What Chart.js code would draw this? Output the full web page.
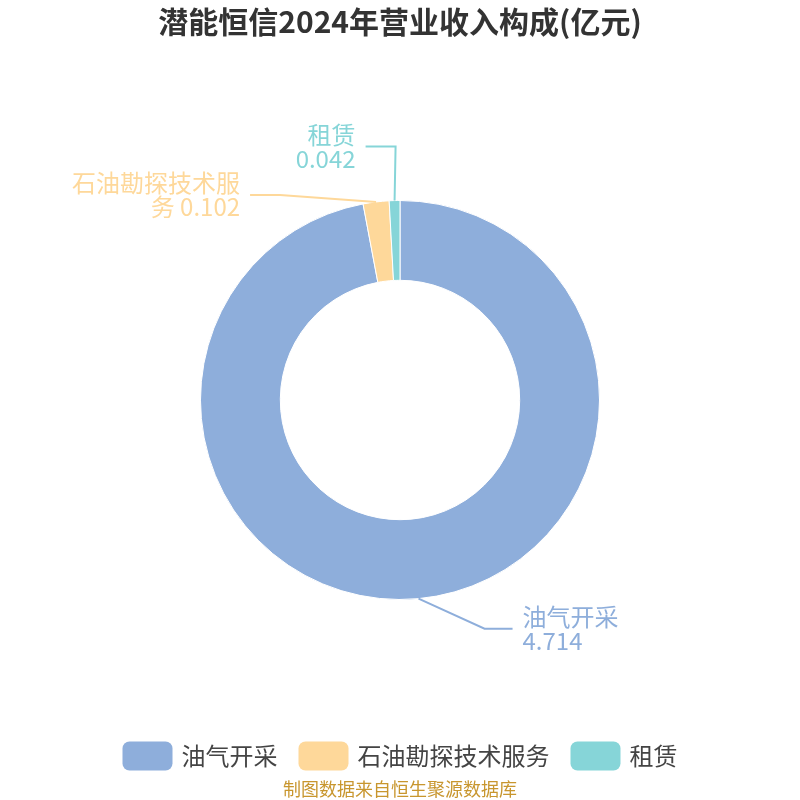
<!DOCTYPE html>
<html><head><meta charset="utf-8">
<script src="https://cdn.jsdelivr.net/npm/chart.js@4/dist/chart.umd.min.js"></script>
<style>html,body{margin:0;padding:0;background:#fff}#wrap{width:800px;height:800px}</style>
</head><body><div id="wrap"><canvas id="c" width="800" height="800"></canvas></div>
<script>
const titleText = '潜能恒信2024年营业收入构成(亿元)';
const categories = ['油气开采', '石油勘探技术服务', '租赁'];
const values = [4.714, 0.102, 0.042];
const valueLabels = ['4.714', '0.102', '0.042'];
const colors = ['#8eaedb', '#fed89a', '#86d5d8'];
const sourceText = '制图数据来自恒生聚源数据库';

const FONT = '"Noto Sans CJK SC","Noto Sans",sans-serif';
// label layout: elbow offset from arc point, horizontal run, side, text lines
const labelLayout = [
  {elbow:[66,30], run:28, side:'right', lines:[categories[0], valueLabels[0]]},
  {elbow:[-96,-7], run:-30, side:'left', lines:['石油勘探技术服', '务 ' + valueLabels[1]]},
  {elbow:[1,-54], run:-30, side:'left', lines:[categories[2], valueLabels[2]]}
];

const decor = {
  id:'decor',
  afterDraw(chart){
    const ctx = chart.ctx;
    ctx.save();
    // title
    ctx.fillStyle = '#333';
    ctx.font = 'bold 30px ' + FONT;
    ctx.textAlign = 'center'; ctx.textBaseline = 'middle';
    ctx.fillText(titleText, 400, 22);
    // labels
    const meta = chart.getDatasetMeta(0);
    meta.data.forEach((arc, i) => {
      const p = arc.getProps(['x','y','startAngle','endAngle','outerRadius'], true);
      const mid = (p.startAngle + p.endAngle) / 2;
      const sx = p.x + Math.cos(mid) * p.outerRadius;
      const sy = p.y + Math.sin(mid) * p.outerRadius;
      const L = labelLayout[i];
      const ex = sx + L.elbow[0], ey = sy + L.elbow[1];
      const hx = ex + L.run;
      ctx.strokeStyle = colors[i]; ctx.lineWidth = 2;
      ctx.beginPath(); ctx.moveTo(sx, sy); ctx.lineTo(ex, ey); ctx.lineTo(hx, ey); ctx.stroke();
      ctx.fillStyle = colors[i];
      ctx.font = '24px ' + FONT;
      ctx.textBaseline = 'middle';
      const tx = L.side === 'right' ? hx + 10 : hx - 10;
      ctx.textAlign = L.side === 'right' ? 'left' : 'right';
      ctx.fillText(L.lines[0], tx, ey - 12);
      ctx.fillText(L.lines[1], tx, ey + 12);
    });
    // legend
    ctx.font = '24px ' + FONT;
    const boxW = 50, boxH = 29, gap = 9, itemGap = 21;
    const widths = categories.map(c => boxW + gap + ctx.measureText(c).width);
    const total = widths.reduce((a,b)=>a+b,0) + itemGap*(categories.length-1);
    let x = 400 - total/2;
    const ly = 756;
    categories.forEach((c, i) => {
      ctx.fillStyle = colors[i];
      ctx.beginPath();
      if (ctx.roundRect) ctx.roundRect(x, ly - boxH/2, boxW, boxH, 7); else ctx.rect(x, ly - boxH/2, boxW, boxH);
      ctx.fill();
      ctx.fillStyle = '#444';
      ctx.textAlign = 'left'; ctx.textBaseline = 'middle';
      ctx.fillText(c, x + boxW + gap, ly);
      x += widths[i] + itemGap;
    });
    // source
    ctx.fillStyle = '#c8962e';
    ctx.font = '18px ' + FONT;
    ctx.textAlign = 'center';
    ctx.fillText(sourceText, 400, 789);
    ctx.restore();
  }
};

new Chart(document.getElementById('c'), {
  type:'doughnut',
  data:{labels:categories, datasets:[{data:values, backgroundColor:colors, borderColor:'#fff', borderWidth:1, hoverOffset:0}]},
  options:{
    responsive:false, animation:false, devicePixelRatio:1,
    cutout:'60%',
    layout:{padding:{top:200,bottom:200,left:200,right:200}},
    plugins:{legend:{display:false}, title:{display:false}, tooltip:{enabled:false}}
  },
  plugins:[decor]
});
</script>
</body></html>
